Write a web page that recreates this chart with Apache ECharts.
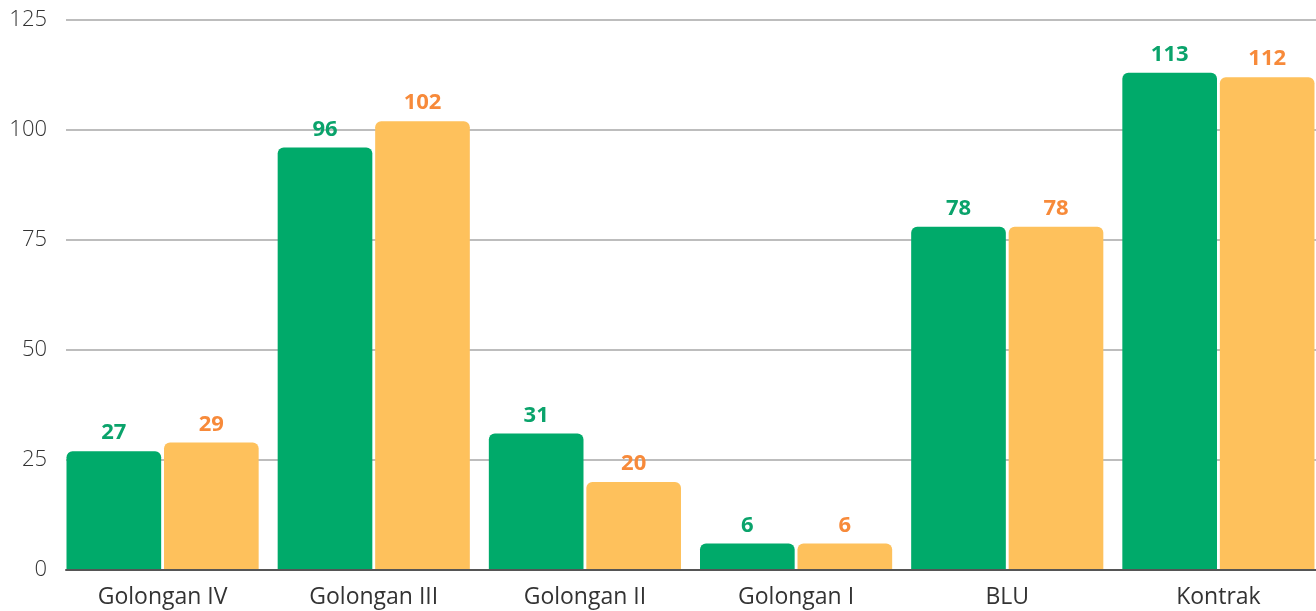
<!DOCTYPE html>
<html>
<head>
<meta charset="utf-8">
<script src="https://cdn.jsdelivr.net/npm/echarts@6/dist/echarts.min.js"></script>
<style>
  html, body { margin: 0; padding: 0; background: #fff; }
  #chart { width: 1316px; height: 611px; }
</style>
</head>
<body>
<div id="chart"></div>
<script>
const categories = ['Golongan IV', 'Golongan III', 'Golongan II', 'Golongan I', 'BLU', 'Kontrak'];
const greenValues = [27, 96, 31, 6, 78, 113];
const orangeValues = [29, 102, 20, 6, 78, 112];
const yTicks = { min: 0, max: 125, interval: 25 };

const font = '"Open Sans", "Noto Sans", sans-serif';

const barSeries = (name, values, barColor, textColor) => ({
  name: name,
  type: 'bar',
  data: values,
  xAxisIndex: 0,
  yAxisIndex: 0,
  barGap: '3%',
  barCategoryGap: '9%',
  itemStyle: { color: barColor, borderRadius: [6, 6, 0, 0] },
  label: {
    show: true,
    position: 'top',
    distance: 7,
    color: textColor,
    fontFamily: font,
    fontWeight: 'bold',
    fontSize: 22
  }
});

const chart = echarts.init(document.getElementById('chart'));
chart.setOption({
  animation: false,
  // grid 0 holds the bars (wider than the page), grid 1 only draws the gridlines and axes
  grid: [
    { left: 57, width: 1267, top: 20, bottom: 41, outerBoundsMode: 'none', z: 3 },
    { left: 66, right: 0, top: 20, bottom: 41, outerBoundsMode: 'none' }
  ],
  xAxis: [
    {
      gridIndex: 0,
      type: 'category',
      data: categories,
      axisTick: { show: false },
      axisLine: { show: false },
      axisLabel: { color: '#333', fontFamily: font, fontSize: 23, margin: 16 }
    },
    {
      gridIndex: 1,
      type: 'value',
      min: 0,
      max: 1,
      axisTick: { show: false },
      axisLabel: { show: false },
      splitLine: { show: false },
      axisLine: { lineStyle: { color: '#555', width: 2 } },
      z: 5
    }
  ],
  yAxis: [
    {
      gridIndex: 0,
      type: 'value',
      min: yTicks.min,
      max: yTicks.max,
      interval: yTicks.interval,
      axisLabel: { show: false },
      splitLine: { show: false }
    },
    {
      gridIndex: 1,
      type: 'value',
      min: yTicks.min,
      max: yTicks.max,
      interval: yTicks.interval,
      axisLine: { show: false },
      axisTick: { show: false },
      axisLabel: { color: '#333', fontFamily: font, fontWeight: 300, fontSize: 22, margin: 19 },
      splitLine: { lineStyle: { color: '#bdbdbd', width: 2 } }
    }
  ],
  series: [
    barSeries('A', greenValues, '#00aa6a', '#0aa36b'),
    barSeries('B', orangeValues, '#fec15c', '#f78a3a')
  ]
});
</script>
</body>
</html>
